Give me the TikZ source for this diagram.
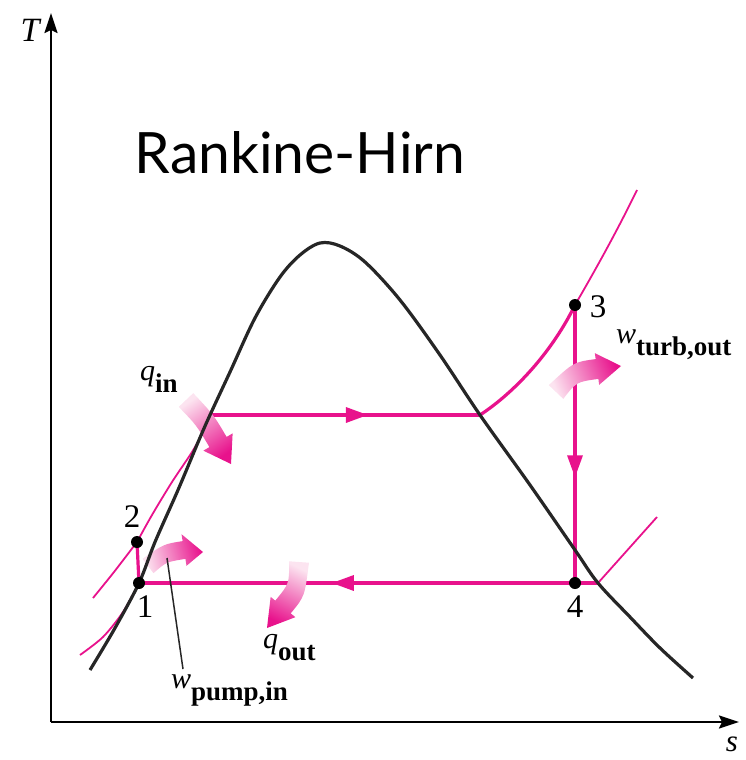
\documentclass[tikz,border=0pt]{standalone}
\usepackage{fontspec}
\setmainfont{Liberation Serif}
\newfontfamily\titlefont{Lato}
\usetikzlibrary{arrows.meta,decorations.markings,calc}
\definecolor{mag}{RGB}{232,18,140}
\definecolor{magl}{RGB}{252,228,240}
\newcommand\qsub[2]{{\fontsize{30}{34}\selectfont\itshape #1}\raisebox{-12pt}{\fontsize{27}{30}\selectfont\bfseries #2}}
% tail, ctrl, headbase, tip, halfwidth, head halfwidth, shading angle
\newcommand\garrow[7]{%
  \shade[bottom color=magl, top color=mag, shading angle=#7]
  ($(#1)!#5!90:(#2)$) .. controls ($(#2)!#5!90:(#3)$) .. ($(#3)!#5!-90:(#2)$)
  -- ($(#3)!#6!-90:(#2)$) -- (#4) -- ($(#3)!#6!90:(#2)$) -- ($(#3)!#5!90:(#2)$)
  .. controls ($(#2)!#5!-90:(#3)$) .. ($(#1)!#5!-90:(#2)$) -- cycle;}
\begin{document}
\begin{tikzpicture}[x=1pt,y=-1pt,
  axis/.style={line width=2.2pt, black, -{Stealth[length=20pt,width=13pt,inset=3pt]}},
  dome/.style={line width=3.2pt, black!85},
  proc/.style={line width=3.2pt, mag},
  thinp/.style={line width=1.8pt, mag},
  midarr/.style={postaction={decorate},decoration={markings,
     mark=at position #1 with {\arrow{Triangle[length=22pt,width=15pt]}}}},
  dot/.style={circle, fill=black, inner sep=0pt, minimum size=12pt},
  num/.style={font=\fontsize{33}{36}\selectfont, inner sep=0pt},
  lbl/.style={inner sep=0pt}]
\useasboundingbox (0,0) rectangle (746,760);
% coordinates
\coordinate (o) at (51,722);
\coordinate (xend) at (739,722);
\coordinate (yend) at (51,13);
\coordinate (p1) at (139,583);
\coordinate (p2) at (137,542);
\coordinate (p3) at (575,305);
\coordinate (p4) at (575,583);
\coordinate (fH) at (210,415);
\coordinate (gH) at (480,415);
\coordinate (gL) at (598,583);
% axes
\draw[axis] (o) -- (xend);
\draw[axis] (o) -- (yend);
\node[lbl, font=\fontsize{34}{36}\selectfont\itshape] (lT) at (30,30) {T};
\node[lbl, font=\fontsize{31}{34}\selectfont\itshape] (ls) at (732,744) {s};
% title
\node[lbl, font=\titlefont\fontsize{57}{60}\selectfont] (title) at (300,153) {Rankine-Hirn};
% isobars (thin)
\draw[thinp] plot[smooth] coordinates {(80,655) (103,637) (123,612) (p1)};
\draw[thinp] plot[smooth] coordinates {(93,598) (114,572) (p2)};
\draw[thinp] plot[smooth] coordinates {(p2) (152,515) (172,482) (192,452) (203,432) (fH)};
\draw[thinp] (gL) -- (657,517);
\draw[thinp] (p3) .. controls (600,262) and (620,225) .. (637,190);
% process lines
\draw[proc] (p1) -- (p2);
\draw[proc, midarr=0.585] (fH) -- (gH);
\draw[proc] (gH) .. controls (515,392) and (552,352) .. (p3);
\draw[proc, midarr=0.62] (p3) -- (p4);
\draw[proc, midarr=0.58] (gL) -- (p1);
% gradient arrows
\coordinate (a1t) at (186,400); \coordinate (a1c) at (205,420); \coordinate (a1h) at (218,442); \coordinate (a1p) at (231,464);
\garrow{a1t}{a1c}{a1h}{a1p}{10pt}{17pt}{-145}
\coordinate (a2t) at (148,566); \coordinate (a2c) at (165,553); \coordinate (a2h) at (184,550); \coordinate (a2p) at (203,552);
\garrow{a2t}{a2c}{a2h}{a2p}{9pt}{16pt}{-76}
\coordinate (a3t) at (556,392); \coordinate (a3c) at (575,372); \coordinate (a3h) at (597,369); \coordinate (a3p) at (621,366);
\garrow{a3t}{a3c}{a3h}{a3p}{10pt}{16pt}{-68}
\coordinate (a4t) at (299,562); \coordinate (a4c) at (297,590); \coordinate (a4h) at (283,607); \coordinate (a4p) at (267,628);
\garrow{a4t}{a4c}{a4h}{a4p}{10pt}{16pt}{154}
% saturation dome
\draw[dome] plot[smooth, tension=0.55] coordinates {(90,670) (115,628) (p1) (155,542) (178,490) (199,440) (fH) (230,372) (255,318) (280,277) (300,255) (320,243) (340,246) (365,262) (400,300) (440,355) (gH) (530,485) (575,550) (gL) (630,617) (660,648) (693,678)};
% state points
\node[dot] (n1) at (p1) {};
\node[dot] (n2) at (p2) {};
\node[dot] (n3) at (p3) {};
\node[dot] (n4) at (p4) {};
\node[num] (l1) at (145,607) {1};
\node[num] (l2) at (132,517) {2};
\node[num] (l3) at (598,307) {3};
\node[num] (l4) at (575,607) {4};
% labels
\node[lbl, anchor=base west] (qin) at (140,380) {\qsub{q}{in}};
\node[lbl, anchor=base west] (wturb) at (616,343) {\qsub{w}{turb,out}};
\node[lbl, anchor=base west] (qout) at (263,648) {\qsub{q}{out}};
\node[lbl, anchor=base west] (wpump) at (171,688) {\qsub{w}{pump,in}};
\coordinate (lead) at (167,558);
\draw[line width=1.5pt, black!85] (lead) -- ($(wpump.north west)+(12,-5)$);
\end{tikzpicture}
\end{document}
